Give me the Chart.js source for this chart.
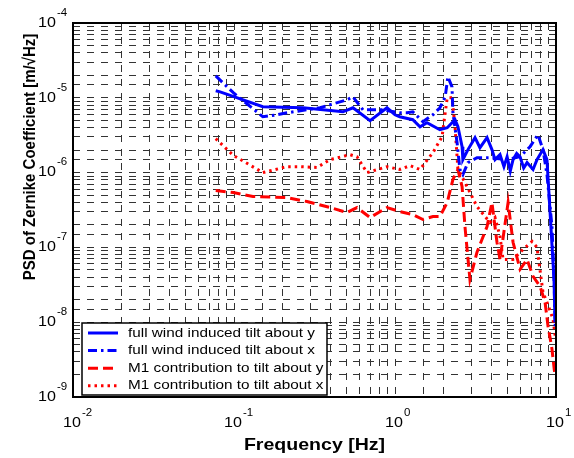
<!DOCTYPE html>
<html>
<head>
<meta charset="utf-8">
<script src="https://cdn.jsdelivr.net/npm/chart.js@4.4.0/dist/chart.umd.min.js"></script>
<style>
body{margin:0;background:#fff}
#wrap{width:574px;height:458px}
</style>
</head>
<body>
<div id="wrap"><canvas id="myChart" width="574" height="458"></canvas></div>
<script>
// PSD values: frequency [Hz] and PSD [m/sqrt(Hz)]
const windYFreq = [0.077,0.082,0.151,0.268,0.475,0.548,0.70,0.892,1.0,1.07,1.29,1.43,1.58,1.90,2.11,2.36,2.46,2.61,2.64,2.84,3.14,3.37,3.73,4.00,4.18,4.49,4.75,4.97,5.2,5.41,5.7,5.98,6.3,6.61,7.20,7.62,8.30,8.79,8.92,9.72,9.86];
const windY = [1.24e-5,1.2e-5,7.6e-6,7.36e-6,6.5e-6,7.36e-6,4.94e-6,7.36e-6,5.93e-6,5.58e-6,5.09e-6,4.1e-6,4.64e-6,3.74e-6,3.98e-6,5.09e-6,4.1e-6,2.22e-6,1.49e-6,2.03e-6,2.93e-6,2.15e-6,2.93e-6,2.03e-6,1.49e-6,1.74e-6,1.2e-6,1.63e-6,1.05e-6,1.49e-6,1.8e-6,1.63e-6,1.15e-6,1.36e-6,1.1e-6,1.49e-6,2.03e-6,1.49e-6,8.6e-7,3.74e-8,1.0e-8];

const windXFreq = [0.077,0.099,0.151,0.185,0.213,0.342,0.503,0.548,0.633,0.84,1.07,1.19,1.29,1.49,1.72,1.90,2.05,2.13,2.26,2.29,2.43,2.53,2.64,2.84,3.23,3.89,4.97,5.98,6.90,7.73,8.30,8.79,9.44,9.72,9.90];
const windX = [1.96e-5,1.17e-5,5.58e-6,5.93e-6,6.3e-6,7.36e-6,9.4e-6,1.03e-5,6.9e-6,6.9e-6,6.3e-6,6.3e-6,6.5e-6,4.79e-6,5.93e-6,7.36e-6,1.03e-5,1.91e-5,1.4e-5,6.3e-6,2.51e-6,1.1e-6,9.4e-7,1.36e-6,1.58e-6,1.58e-6,1.49e-6,1.63e-6,2.22e-6,3.21e-6,2.03e-6,9.4e-7,1.9e-7,4.0e-8,8.0e-9];

const m1YFreq = [0.077,0.099,0.131,0.213,0.284,0.395,0.503,0.581,0.70,0.892,1.07,1.29,1.49,1.72,1.90,2.11,2.29,2.46,2.61,2.72,2.92,3.23,3.73,4.00,4.30,4.49,5.04,5.41,5.98,6.61,7.20,7.96,8.55,8.92,9.44,9.86];
const m1Y = [5.75e-7,5.41e-7,4.79e-7,4.64e-7,4.1e-7,3.41e-7,2.93e-7,3.41e-7,2.51e-7,3.41e-7,3.02e-7,2.75e-7,2.36e-7,2.59e-7,2.59e-7,3.98e-7,8.1e-7,1.1e-6,6.5e-7,1.9e-7,3.74e-8,8.6e-8,1.9e-7,3.98e-7,1.17e-7,6.9e-8,3.98e-7,1.17e-7,5.09e-8,6.9e-8,4.1e-8,3.02e-8,1.85e-8,8.9e-9,4.37e-9,1.9e-9];

const m1XFreq = [0.077,0.099,0.151,0.213,0.257,0.328,0.395,0.525,0.581,0.670,0.892,1.07,1.24,1.43,1.54,1.72,1.96,2.05,2.11,2.26,2.36,2.46,2.53,2.80,3.23,3.89,4.18,4.49,4.69,5.41,6.24,7.10,7.62,8.30,8.79,9.58,9.95];
const m1X = [2.84e-6,1.7e-6,1.0e-6,1.2e-6,1.2e-6,1.17e-6,1.49e-6,1.74e-6,1.63e-6,1.0e-6,1.2e-6,1.1e-6,1.24e-6,1.1e-6,1.36e-6,1.85e-6,3.02e-6,6.3e-6,1.0e-5,1.0e-5,4.1e-6,1.1e-6,1.0e-6,6.5e-7,3.52e-7,2.15e-7,2.51e-7,1.4e-7,6.9e-8,6.9e-8,9.4e-8,1.2e-7,1.0e-7,2.51e-8,1.85e-8,1.1e-8,5.9e-9];

const seriesLabels = ['full wind induced tilt about y','full wind induced tilt about x','M1 contribution to tilt about y','M1 contribution to tilt about x'];
const xDecades = [-2,-1,0,1];
const yDecades = [-9,-8,-7,-6,-5,-4];

const FONT = '"Liberation Sans", Arial, sans-serif';
const SX = 1.15; // the picture is a bit wider than tall

function pts(f, v) { return f.map((x, i) => ({x: x, y: v[i]})); }

function txt(ctx, s, x, y, font, align, rot) {
  ctx.save();
  ctx.translate(x, y);
  ctx.scale(SX, 1);
  if (rot) ctx.rotate(-Math.PI / 2);
  ctx.font = font;
  ctx.textAlign = align;
  ctx.textBaseline = 'middle';
  ctx.fillStyle = '#000';
  ctx.fillText(s, 0, 0);
  ctx.restore();
}

const framePlugin = {
  id: 'frame',
  afterDraw(chart) {
    const ctx = chart.ctx, a = chart.chartArea;
    const xs = chart.scales.x, ys = chart.scales.y;
    ctx.save();
    ctx.strokeStyle = '#000';
    ctx.lineWidth = 2;
    ctx.setLineDash([]);
    ctx.strokeRect(a.left, a.top, a.right - a.left, a.bottom - a.top);

    // tick labels 10^n
    ctx.font = '14px ' + FONT;
    const w10 = ctx.measureText('10').width * SX;
    xDecades.forEach(e => {
      const px = xs.getPixelForValue(Math.pow(10, e)) - 1;
      txt(ctx, '10', px, a.bottom + 26, '14px ' + FONT, 'center');
      txt(ctx, String(e), px + w10 / 2 + 1, a.bottom + 16, '10px ' + FONT, 'left');
    });
    yDecades.forEach(e => {
      const py = ys.getPixelForValue(Math.pow(10, e));
      txt(ctx, '10', a.left - 17, py, '14px ' + FONT, 'right');
      txt(ctx, String(e), a.left - 16, py - 10, '10px ' + FONT, 'left');
    });

    // axis titles
    txt(ctx, 'Frequency [Hz]', (a.left + a.right) / 2, a.bottom + 48, 'bold 17px ' + FONT, 'center');
    txt(ctx, 'PSD of Zernike Coefficient [m/\u221AHz]', 30, 157, 'bold 15px ' + FONT, 'center', true);

    // legend box in lower left of the plot
    const lx = a.left + 9, ly = a.bottom - 74, lw = 245, lh = 72;
    ctx.fillStyle = '#fff';
    ctx.fillRect(lx, ly, lw, lh);
    ctx.lineWidth = 1.5;
    ctx.strokeStyle = '#000';
    ctx.strokeRect(lx, ly, lw, lh);
    chart.data.datasets.forEach((ds, i) => {
      const ry = ly + 10 + i * 17.6;
      ctx.save();
      ctx.strokeStyle = ds.borderColor;
      ctx.lineWidth = ds.borderWidth;
      ctx.setLineDash(ds.borderDash || []);
      ctx.beginPath();
      ctx.moveTo(lx + 6, ry);
      ctx.lineTo(lx + 36, ry);
      ctx.stroke();
      ctx.restore();
      txt(ctx, ds.label, lx + 46, ry, '13.3px ' + FONT, 'left');
    });
    ctx.restore();
  }
};

function draw() {
  const ctx = document.getElementById('myChart');
  new Chart(ctx, {
    type: 'line',
    data: {
      datasets: [
        {label: seriesLabels[0], data: pts(windYFreq, windY), borderColor: '#0000ff', borderWidth: 3, borderDash: []},
        {label: seriesLabels[1], data: pts(windXFreq, windX), borderColor: '#0000ff', borderWidth: 3, borderDash: [9, 4, 2.5, 4]},
        {label: seriesLabels[2], data: pts(m1YFreq, m1Y), borderColor: '#ff0000', borderWidth: 3, borderDash: [10, 5]},
        {label: seriesLabels[3], data: pts(m1XFreq, m1X), borderColor: '#ff0000', borderWidth: 3, borderDash: [2.5, 4]}
      ]
    },
    options: {
      responsive: false,
      animation: false,
      devicePixelRatio: 1,
      elements: {point: {radius: 0}, line: {tension: 0}},
      layout: {padding: {left: 0, right: 18, top: 23, bottom: 0}},
      plugins: {legend: {display: false}, tooltip: {enabled: false}},
      scales: {
        x: {
          type: 'logarithmic', min: 0.01, max: 10,
          ticks: {display: false},
          grid: {color: '#333', lineWidth: 1, drawTicks: false},
          border: {display: false, dash: [7, 7]},
          afterFit: s => { s.height = 61; }
        },
        y: {
          type: 'logarithmic', min: 1e-9, max: 1e-4,
          ticks: {display: false},
          grid: {color: '#333', lineWidth: 1, drawTicks: false},
          border: {display: false, dash: [7, 7]},
          afterFit: s => { s.width = 73; }
        }
      }
    },
    plugins: [framePlugin]
  });
}
draw();
</script>
</body>
</html>
